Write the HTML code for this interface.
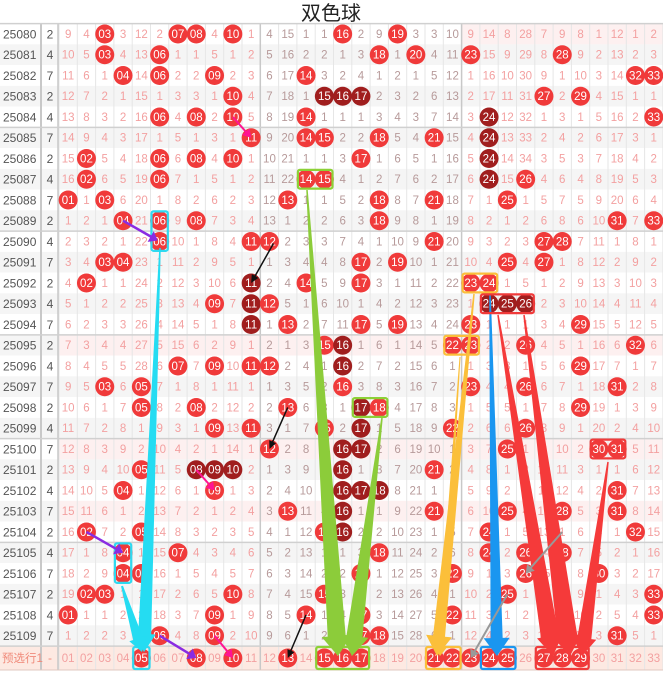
<!DOCTYPE html>
<html><head><meta charset="utf-8">
<style>
html,body{margin:0;padding:0;background:#fff;}
svg{display:block;font-family:"Liberation Sans","Noto Sans CJK SC",sans-serif;}
</style></head>
<body>
<svg id="s" width="663" height="673" xmlns="http://www.w3.org/2000/svg"></svg>
<script>
const S=document.getElementById('s');
let h='';
const CW=18.3,X0=59,RH=20.75,Y0=23.6;
const cx=c=>X0+(c-0.5)*CW;
const cy=i=>Y0+RH*(i+0.5);
h+='<text x="331" y="20" font-size="20" text-anchor="middle" fill="#222">双色球</text>';
const hits=[
[3,7,8,10,16,19],[3,6,18,20,23,28],[4,6,9,14,32,33],[10,15,16,17,27,29],[6,8,10,14,24,33],
[11,14,15,18,21,24],[2,6,8,10,17,24],[2,6,14,15,24,26],[1,3,13,18,21,25],[4,6,8,18,31,33],
[6,11,12,21,27,28],[3,4,17,19,25,27],[2,11,14,17,23,24],[9,11,12,24,25,26],[11,13,17,19,23,29],
[15,16,22,23,26,32],[7,9,11,12,16,29],[3,5,16,23,26,31],[5,8,13,17,18,29],[9,11,15,17,22,26],
[12,16,17,25,30,31],[5,8,9,10,16,21],[4,9,16,17,18,31],[13,16,21,25,28,31],[2,5,15,16,24,32],
[4,7,18,24,26,28],[4,5,17,22,26,30],[2,3,10,15,25,33],[1,9,14,17,22,33],[6,9,17,18,31]];
const dark={3:[15,16,17],4:[24],5:[24],6:[24],7:[24],12:[11],13:[11,24,25,26],14:[11],15:[16],16:[16],18:[17],21:[8,9,10,16],22:[16,17,18],23:[16],24:[16],19:[17],20:[16,17]};
const init=[9,4,0,3,12,2,0,0,4,0,1,4,15,1,1,0,2,9,0,3,3,10,9,14,8,28,7,9,8,1,12,1,2];
let cnt=init.map(v=>v>0?v-1:0);
const pinkRows=[15,20,23];
// backgrounds
for(let i=0;i<30;i++){
  const y=Y0+RH*i;
  let bg=(i%2==1)?'#f5f5f5':'#fff';
  h+=`<rect x="0" y="${y}" width="663" height="${RH}" fill="${bg}"/>`;
  if(pinkRows.includes(i)) h+=`<rect x="${X0}" y="${y}" width="${663-X0}" height="${RH}" fill="#fdf0f0"/>`;
  if(i==0) h+=`<rect x="${X0+22*CW}" y="${y}" width="${11*CW}" height="${RH}" fill="#fdf0f0"/>`;
}
const yb=Y0+RH*30;
h+=`<rect x="0" y="${yb}" width="663" height="${673-yb-3}" fill="#fde9e2"/>`;
// grid lines
for(let c=0;c<=33;c++){
  const x=X0+c*CW;
  const th=(c==11||c==22);
  h+=`<line x1="${x}" y1="${Y0}" x2="${x}" y2="670" stroke="${th?'#c8c8c8':'#e6e6e6'}" stroke-width="${th?1.5:1}"/>`;
}
h+=`<line x1="41" y1="${Y0}" x2="41" y2="670" stroke="#c8c8c8" stroke-width="2"/>`;
h+=`<line x1="58" y1="${Y0}" x2="58" y2="670" stroke="#c8c8c8" stroke-width="1.5"/>`;
for(let i=0;i<=30;i++){
  const y=Y0+RH*i;
  if(i%5==0) h+=`<line x1="0" y1="${y}" x2="663" y2="${y}" stroke="#d0d0d0" stroke-width="1.5"/>`;
}
h+=`<line x1="0" y1="670" x2="663" y2="670" stroke="#e0c8c0" stroke-width="1"/>`;
const ball=(x,y,t,col)=>`<circle cx="${x}" cy="${y}" r="9.5" fill="${col}"/><text x="${x}" y="${y+4}" font-size="11.5" fill="#fff" text-anchor="middle">${t}</text>`;
const pad=n=>(n<10?'0':'')+n;
const cyc=[2,4,7];
for(let i=0;i<30;i++){
  const y=cy(i);
  h+=`<text x="3" y="${y+4.5}" font-size="12" fill="#555">${25080+i}</text>`;
  h+=`<text x="50" y="${y+4.5}" font-size="12" fill="#555" text-anchor="middle">${cyc[i%3]}</text>`;
  for(let c=1;c<=33;c++){
    const x=cx(c);
    if(hits[i].includes(c)){
      cnt[c-1]=0;
      const d=(dark[i]||[]).includes(c);
      h+=ball(x,y,pad(c),d?'#a01e1e':'#f03a3a');
    } else {
      cnt[c-1]++;
      const col=(c>11&&c<=22)?'#b79a9a':'#f3a0a0';
      h+=`<text x="${x}" y="${y+4}" font-size="11.5" fill="${col}" text-anchor="middle">${cnt[c-1]}</text>`;
    }
  }
}
// bottom row
const by=658;
h+=`<text x="2" y="${by+4}" font-size="11.5" fill="#f08a7a">预选行1</text>`;
h+=`<text x="50" y="${by+4}" font-size="12" fill="#f08a7a" text-anchor="middle">-</text>`;
const bb=[5,8,10,13,15,16,17,21,22,23,24,25,27,28,29];
for(let c=1;c<=33;c++){
  const x=cx(c);
  if(bb.includes(c)) h+=ball(x,by,pad(c),'#f03a3a');
  else h+=`<text x="${x}" y="${by+4}" font-size="11.5" fill="#f3a0a0" text-anchor="middle">${pad(c)}</text>`;
}
// boxes
const box=(c1,c2,i1,i2,col)=>{const x1=X0+(c1-1)*CW+1,x2=X0+c2*CW-1,y1=Y0+RH*i1+1,y2=Y0+RH*(i2+1)-1;
  return `<rect x="${x1}" y="${y1}" width="${x2-x1}" height="${y2-y1}" rx="2" fill="none" stroke="${col}" stroke-width="2.2"/>`;};
const bY1=647,bY2=670;
const bbox=(c1,c2,col)=>`<rect x="${X0+(c1-1)*CW+1}" y="${bY1}" width="${(c2-c1+1)*CW-2}" height="${bY2-bY1-1}" rx="2" fill="none" stroke="${col}" stroke-width="2.2"/>`;
// wedges
const wedge=(x1,y1,x2,y2,w1,w2,col,hw,hl)=>{
  const dx=x2-x1,dy=y2-y1,L=Math.hypot(dx,dy),ux=dx/L,uy=dy/L,px=-uy,py=ux;
  const bx=x2-ux*hl,byy=y2-uy*hl;
  const p=[[x1+px*w1/2,y1+py*w1/2],[bx+px*w2/2,byy+py*w2/2],[bx+px*hw/2,byy+py*hw/2],[x2,y2],[bx-px*hw/2,byy-py*hw/2],[bx-px*w2/2,byy-py*w2/2],[x1-px*w1/2,y1-py*w1/2]];
  return `<polygon points="${p.map(q=>q.join(',')).join(' ')}" fill="${col}"/>`;};
const line=(x1,y1,x2,y2,col,w)=>wedge(x1,y1,x2,y2,w,w,col,w*5,8);
let a='';
// cyan
a+=box(6,6,9,10,'#2fd9f0');a+=box(4,4,25,26,'#2fd9f0');a+=bbox(5,5,'#2fd9f0');
a+=wedge(160,248,144,652,1.5,13,'#25dcf2',22,18);
a+=wedge(122,586,142,652,2,10,'#25dcf2',18,14);
// green
a+=box(14,15,7,7,'#8cd136');a+=box(17,18,18,18,'#8cd136');a+=bbox(15,17,'#8cd136');
a+=wedge(307,190,338,656,1.5,18,'#8ccc3a',30,20);
a+=wedge(382,418,352,656,1.5,16,'#8ccc3a',28,20);
// orange
a+=box(23,24,12,12,'#fbbf3a');a+=box(22,23,15,15,'#fbbf3a');a+=bbox(21,22,'#fbbf3a');
a+=wedge(474,294,437,656,1.5,12,'#fbbf3a',26,20);
a+=wedge(460,357,440,656,1,6,'#fbbf3a',14,10);
// blue
a+=bbox(24,25,'#1a96f0');
a+=wedge(490,294,497,656,1.5,12,'#1a96f0',26,18);
// red
a+=box(24,26,13,13,'#f03a3a');a+=box(30,31,20,20,'#f03a3a');a+=bbox(27,29,'#f03a3a');
a+=wedge(498,315,553,656,1.5,18,'#f53a3a',26,20);
a+=wedge(524,315,570,656,1.5,20,'#f53a3a',28,20);
a+=wedge(608,462,582,656,1.5,14,'#f53a3a',24,18);
// small arrows
a+=line(cx(4),cy(9),cx(6)-2,cy(10)-1,'#8a2be2',2.5);
a+=line(cx(2),cy(24),cx(4),cy(25),'#8a2be2',2.5);
a+=line(cx(6),cy(29),cx(8),by,'#8a2be2',2.5);
a+=line(cx(10),cy(4),cx(11),cy(5),'#ff1493',2);
a+=line(cx(8),cy(21),cx(9),cy(22),'#ff1493',2);
a+=line(cx(9),cy(29),cx(10),by,'#ff1493',2);
a+=line(cx(12)+4,cy(10)+2,cx(11),cy(12),'#111',1.5);
a+=line(cx(13),cy(18),cx(12),cy(20),'#111',1.5);
a+=line(cx(14),cy(28),cx(13),by,'#111',1.5);
a+=line(cx(28),cy(24),cx(26),cy(26),'#999',2);
a+=line(cx(25),cy(27),cx(23),by,'#999',2);
h+=a;
S.innerHTML=h;
</script>
</body></html>
